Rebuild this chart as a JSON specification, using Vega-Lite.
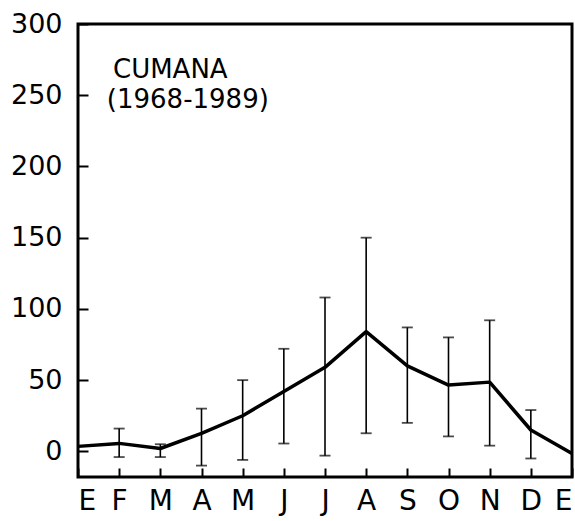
{
  "$schema": "https://vega.github.io/schema/vega-lite/v6.json",
  "width": 494,
  "height": 453,
  "autosize": {"type": "none"},
  "padding": {"left": 78, "top": 24, "right": 3, "bottom": 44},
  "background": "white",
  "config": {
    "view": {"stroke": "black", "strokeWidth": 3},
    "axis": {"grid": false, "domain": false, "labelColor": "black", "tickColor": "black", "labelFont": "DejaVu Sans", "labelFontSize": 27, "title": null, "tickWidth": 2, "zindex": 1}
  },
  "datasets": {
    "rain": [
      {"m": 0, "mean": 3.5},
      {"m": 1, "mean": 5.6, "lo": -4, "hi": 16},
      {"m": 2, "mean": 2, "lo": -4, "hi": 5},
      {"m": 3, "mean": 12.7, "lo": -10, "hi": 30},
      {"m": 4, "mean": 25, "lo": -6, "hi": 50},
      {"m": 5, "mean": 42, "lo": 5.5, "hi": 72},
      {"m": 6, "mean": 59, "lo": -3, "hi": 108},
      {"m": 7, "mean": 84, "lo": 12.7, "hi": 150},
      {"m": 8, "mean": 60, "lo": 20, "hi": 87},
      {"m": 9, "mean": 46.5, "lo": 10.5, "hi": 80},
      {"m": 10, "mean": 48.6, "lo": 4, "hi": 92},
      {"m": 11, "mean": 15, "lo": -5, "hi": 29},
      {"m": 12, "mean": -1.5}
    ],
    "labels": [
      {"x": 0.85, "y": 268, "t": "CUMANA"},
      {"x": 0.7, "y": 247, "t": "(1968-1989)"}
    ]
  },
  "layer": [
    {
      "data": {"name": "rain"},
      "mark": {"type": "rule", "color": "black", "strokeWidth": 1.6},
      "encoding": {
        "x": {"field": "m", "type": "quantitative", "scale": {"domain": [0, 12], "nice": false},
          "axis": {"values": [0,1,2,3,4,5,6,7,8,9,10,11,12], "tickSize": -9, "labelPadding": 19, "labelFontSize": 28,
            "labelExpr": "['E','F','M','A','M','J','J','A','S','O','N','D','E'][datum.value]"}},
        "y": {"field": "lo", "type": "quantitative", "scale": {"domain": [-18, 300], "nice": false, "zero": false},
          "axis": {"values": [0, 50, 100, 150, 200, 250, 300], "tickSize": -10, "labelPadding": 26}},
        "y2": {"field": "hi"}
      }
    },
    {
      "data": {"name": "rain"},
      "mark": {"type": "tick", "orient": "horizontal", "color": "black", "size": 11, "thickness": 1.8},
      "encoding": {
        "x": {"field": "m", "type": "quantitative"},
        "y": {"field": "lo", "type": "quantitative"}
      }
    },
    {
      "data": {"name": "rain"},
      "mark": {"type": "tick", "orient": "horizontal", "color": "black", "size": 11, "thickness": 1.8},
      "encoding": {
        "x": {"field": "m", "type": "quantitative"},
        "y": {"field": "hi", "type": "quantitative"}
      }
    },
    {
      "data": {"name": "rain"},
      "mark": {"type": "line", "color": "black", "strokeWidth": 3.5, "strokeJoin": "round"},
      "encoding": {
        "x": {"field": "m", "type": "quantitative"},
        "y": {"field": "mean", "type": "quantitative"}
      }
    },
    {
      "data": {"name": "labels"},
      "mark": {"type": "text", "align": "left", "baseline": "middle", "font": "DejaVu Sans", "fontSize": 26, "color": "black"},
      "encoding": {
        "x": {"field": "x", "type": "quantitative"},
        "y": {"field": "y", "type": "quantitative"},
        "text": {"field": "t"}
      }
    }
  ]
}
